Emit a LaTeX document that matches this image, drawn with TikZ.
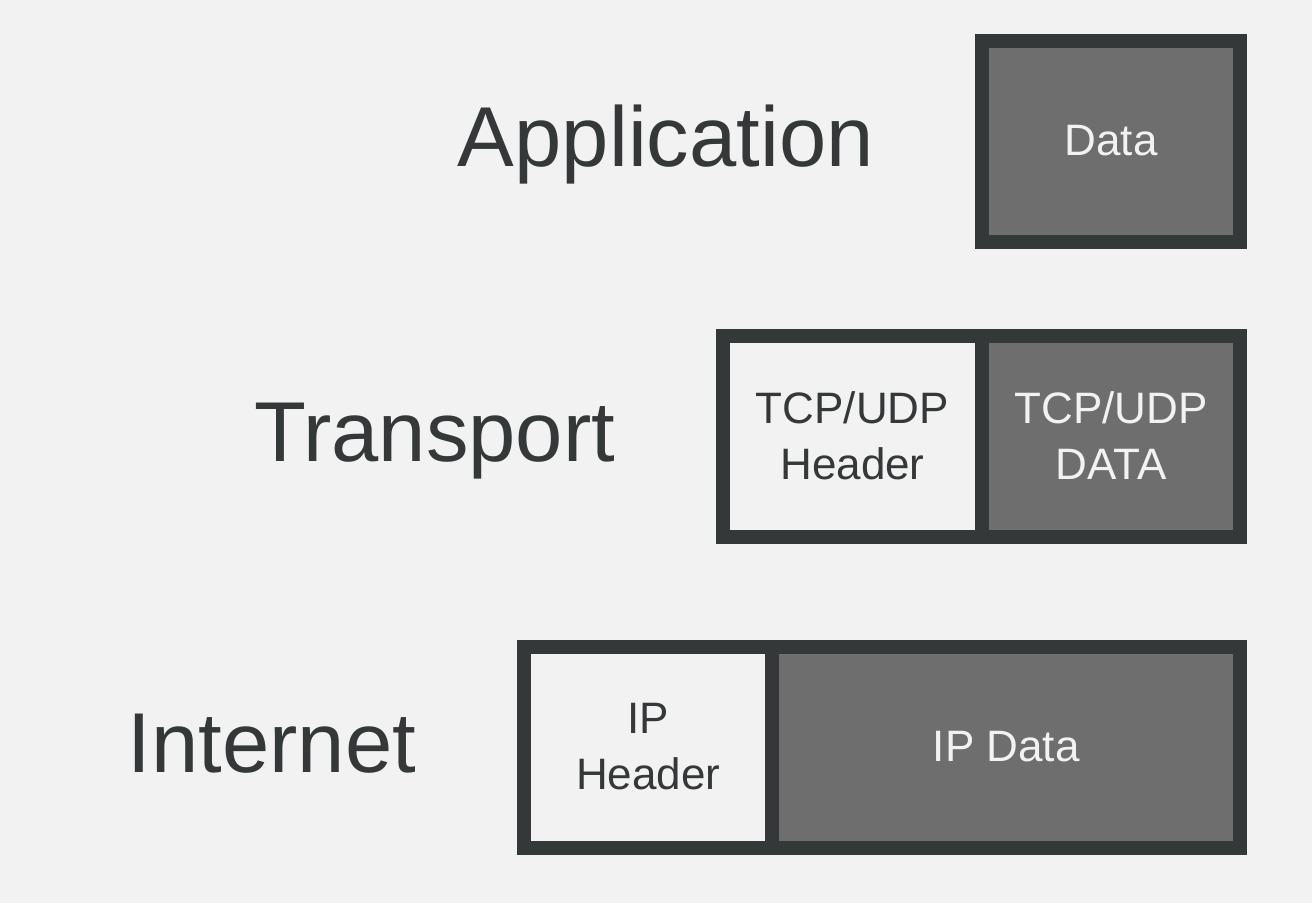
\documentclass[tikz,border=0pt]{standalone}
\usepackage{fontspec}
\setmainfont{Liberation Sans}
\usetikzlibrary{positioning}
\definecolor{edge}{HTML}{353839}
\definecolor{dark}{HTML}{6E6E6E}
\definecolor{paper}{HTML}{F2F2F2}

\begin{document}
\begin{tikzpicture}[x=1pt, y=-1pt]
    \tikzset{
        box/.style = {rectangle, draw=edge, line width=14pt, outer sep=0pt, inner sep=0pt,
                      minimum height=201pt, align=center, font=\fontsize{44}{56}\selectfont},
        header/.style = {box, fill=paper, text=edge},
        payload/.style = {box, fill=dark, text=paper},
        layer/.style = {inner sep=0pt, text=edge, font=\fontsize{85}{100}\selectfont, yshift=-25pt}
    }

    % background
    \fill [paper] (0,0) rectangle (1312,903);
    \useasboundingbox (0,0) rectangle (1312,903);

    % Application
    \node [payload, minimum width=258pt] (appdata) at (1111,141) {Data};
    \node [layer, left=108pt of appdata, anchor=base east] (applbl) {Application};

    % Transport
    \node [payload, minimum width=258.5pt, below=94pt of appdata] (tcpdata) {TCP/UDP\\DATA};
    \node [header, minimum width=258.5pt, left=0pt of tcpdata] (tcphdr) {TCP/UDP\\Header};
    \node [layer, left=108pt of tcphdr, anchor=base east] (tcplbl) {Transport};

    % Internet
    \node [payload, minimum width=468pt, below=110pt of tcpdata.south east, anchor=north east] (ipdata) {IP Data};
    \node [header, minimum width=248pt, left=0pt of ipdata] (iphdr) {IP\\Header};
    \node [layer, left=108pt of iphdr, anchor=base east] (iplbl) {Internet};

\end{tikzpicture}
\end{document}
